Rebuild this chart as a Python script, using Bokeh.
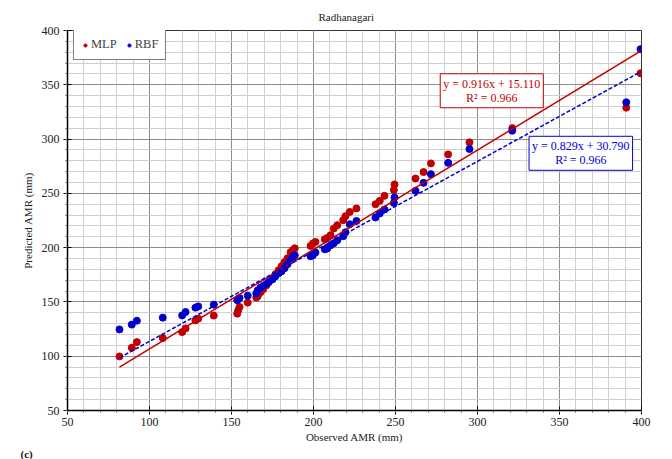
from bokeh.plotting import figure
from bokeh.models import SingleIntervalTicker, Label, Legend, LegendItem, Range1d, Title
from bokeh.embed import file_html
from bokeh.resources import INLINE

# Observed AMR (mm) and predictions of the two models
observed = [81.7, 89.2, 92.3, 108.1, 119.9, 122.0, 128.0, 129.7, 139.2, 153.5,
            154.1, 154.9, 159.9, 165.1, 166.0, 167.7, 169.3, 171.3, 172.7, 175.0,
            176.8, 178.7, 180.5, 182.3, 184.1, 186.0, 187.4, 188.6, 198.2, 199.6,
            201.2, 206.9, 208.4, 210.4, 212.4, 214.5, 218.1, 219.5, 222.1, 226.2,
            237.8, 240.4, 243.3, 249.0, 249.4, 262.2, 267.1, 271.6, 282.1, 295.1,
            321.2, 390.7, 399.4]
mlp = [99.8, 107.8, 113.0, 116.7, 122.2, 125.6, 133.0, 134.6, 137.4, 139.2,
       142.3, 145.3, 149.4, 154.0, 155.2, 158.9, 161.6, 165.3, 168.1, 171.8,
       175.5, 179.2, 182.8, 186.5, 190.2, 195.8, 197.6, 199.4, 201.6, 203.8,
       205.3, 207.7, 208.9, 211.4, 217.6, 220.7, 225.3, 229.0, 232.9, 236.1,
       240.0, 243.1, 247.7, 253.0, 258.2, 263.7, 269.6, 277.6, 285.9, 297.0,
       310.1, 328.9, 360.6]
rbf = [124.7, 129.1, 132.7, 135.5, 137.6, 140.7, 144.7, 145.9, 147.5, 151.5,
       152.7, 153.6, 155.8, 157.7, 160.7, 163.2, 164.7, 166.5, 168.4, 170.8,
       173.6, 176.4, 178.2, 181.0, 184.7, 188.4, 191.1, 193.0, 192.1, 193.0,
       195.5, 198.5, 199.2, 202.2, 204.1, 206.8, 210.5, 214.2, 221.6, 224.6,
       227.8, 231.5, 235.1, 241.2, 246.2, 252.3, 259.7, 267.7, 278.1, 290.8,
       307.7, 333.9, 382.8]

mlp_fit = [0.916, 15.110]
rbf_fit = [0.829, 30.790]
mlp_eq = ["y = 0.916x + 15.110", "R² = 0.966"]
rbf_eq = ["y = 0.829x + 30.790", "R² = 0.966"]

SERIF = "'Liberation Serif', 'Times New Roman', serif"
RED = "#c00000"
BLUE = "#0000cc"

p = figure(width=672, height=459, output_backend="svg", toolbar_location=None,
           x_range=Range1d(50, 400), y_range=Range1d(50, 400),
           min_border_left=67, min_border_right=31, min_border_top=30,
           min_border_bottom=49, background_fill_color="white",
           border_fill_color="white")

p.title.text = "Radhanagari"
p.title.text_font = SERIF
p.title.text_font_size = "11px"
p.title.text_font_style = "normal"
p.title.text_color = "#222222"
p.title.align = "left"
p.title.offset = 251
p.title.standoff = 16

for ax in (p.xaxis[0], p.yaxis[0]):
    ax.ticker = SingleIntervalTicker(interval=50, num_minor_ticks=5)
    ax.axis_line_color = "black"
    ax.axis_line_width = 1.5
    ax.major_tick_line_color = "black"
    ax.major_tick_in = 4
    ax.major_tick_out = 4
    ax.minor_tick_line_color = "#555555"
    ax.minor_tick_in = 0
    ax.minor_tick_out = 2
    ax.major_label_text_font = SERIF
    ax.major_label_text_font_size = "12px"
    ax.major_label_text_color = "#222222"
    ax.axis_label_text_font = SERIF
    ax.axis_label_text_font_size = "11px"
    ax.axis_label_text_font_style = "normal"
    ax.axis_label_text_color = "#222222"

p.xaxis.axis_label = "Observed AMR (mm)"
p.yaxis.axis_label = "Predicted AMR (mm)"
p.xaxis.major_label_standoff = 3
p.xaxis.axis_label_standoff = 2
p.yaxis.major_label_standoff = 4

for g in (p.xgrid[0], p.ygrid[0]):
    g.ticker = SingleIntervalTicker(interval=50, num_minor_ticks=5)
    g.grid_line_color = "#8c8c8c"
    g.grid_line_width = 1
    g.minor_grid_line_color = "#cfcfcf"
    g.minor_grid_line_width = 1

p.outline_line_color = "#333333"
p.outline_line_width = 1

r_mlp = p.scatter(observed, mlp, size=7, color=RED, line_color=RED)
r_rbf = p.scatter(observed, rbf, size=7, color=BLUE, line_color=BLUE)

xs = [min(observed), max(observed)]
p.line(xs, [mlp_fit[0] * x + mlp_fit[1] for x in xs], line_color=RED, line_width=1.5)
p.line(xs, [rbf_fit[0] * x + rbf_fit[1] for x in xs], line_color=BLUE,
       line_width=1.5, line_dash="4 2")

legend = Legend(items=[LegendItem(label="MLP", renderers=[r_mlp]),
                       LegendItem(label="RBF", renderers=[r_rbf])],
                orientation="horizontal", location=(6, 350),
                label_text_font=SERIF, label_text_font_size="12.5px",
                border_line_color="black", border_line_width=1,
                background_fill_color="white", background_fill_alpha=1,
                glyph_width=8, glyph_height=10, label_standoff=2,
                spacing=8, padding=7, margin=0)
p.add_layout(legend, "center")

p.add_layout(Label(x=308.7, y=344.5, text="\n".join(mlp_eq), text_align="center",
                   text_baseline="middle", text_font=SERIF, text_font_size="12px",
                   text_color=RED, border_line_color=RED, border_line_width=1,
                   background_fill_color="white", padding=3, text_line_height=1.0))
p.add_layout(Label(x=363.0, y=286.9, text="\n".join(rbf_eq), text_align="center",
                   text_baseline="middle", text_font=SERIF, text_font_size="12px",
                   text_color=BLUE, border_line_color=BLUE, border_line_width=1,
                   background_fill_color="white", padding=3, text_line_height=1.0))

p.add_layout(Title(text="(c)", align="left", offset=-47, standoff=0,
                   text_font=SERIF, text_font_size="11px", text_font_style="bold",
                   text_color="#222222"), "below")

open("out.html", "w").write(file_html(p, INLINE))
